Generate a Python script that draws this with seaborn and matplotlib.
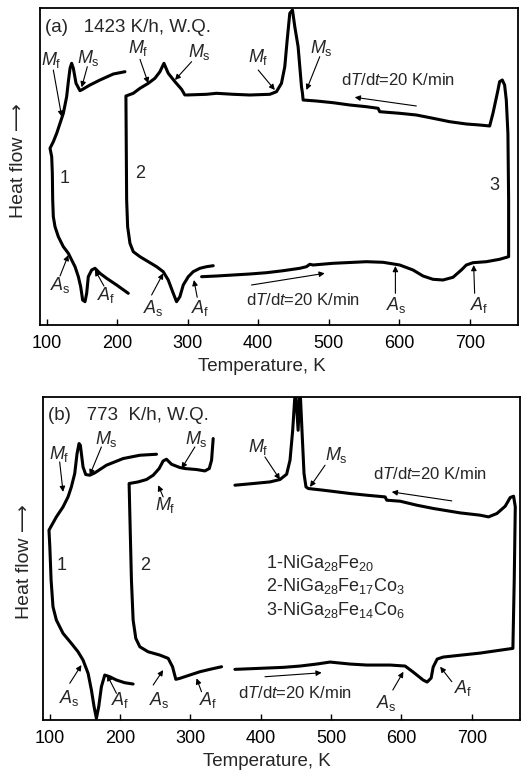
import numpy as np
import pandas as pd
import matplotlib
matplotlib.use("Agg")
import matplotlib.pyplot as plt
import seaborn as sns

# ---------------- data (T in K, heat flow in arbitrary units) ----------------
# Panel (a)
a1_T = [211.0, 194.5, 175.6, 161.4, 151.0, 147.2, 141.6, 137.8, 135.4, 133.1, 130.7, 128.3, 123.6, 118.9,
        114.2, 109.4, 104.7, 107.1, 108.0, 108.5, 109.4, 111.8, 116.5, 123.6, 130.7, 135.4, 140.2, 144.9,
        148.2, 151.0, 154.3, 156.7, 159.0, 163.8, 168.5, 175.6, 185.0, 199.2, 215.7]
a1_H = [253.3, 251.0, 245.0, 240.0, 235.7, 234.3, 241.7, 256.7, 261.7, 256.7, 243.3, 228.3, 211.7, 201.7,
        191.7, 183.3, 176.7, 168.3, 151.7, 125.0, 108.3, 98.3, 88.3, 78.3, 71.7, 65.0, 58.3, 48.3,
        38.3, 25.0, 23.3, 31.7, 48.3, 55.0, 56.7, 51.7, 46.7, 40.0, 31.7]

a2_T = [296.0, 291.3, 281.9, 272.4, 266.3, 260.6, 253.5, 244.1, 232.3, 222.8, 212.4, 212.4, 213.4, 214.8,
        218.1, 222.8, 232.3, 244.1, 255.9, 265.3, 272.4, 279.5, 284.2, 288.9, 293.7, 300.8, 307.8, 317.3,
        326.7, 336.2]
a2_H = [230.0, 235.7, 243.3, 251.7, 261.7, 253.3, 246.7, 241.7, 236.7, 231.7, 229.0, 225.0, 125.0, 98.3,
        81.7, 73.3, 68.3, 63.3, 58.3, 53.3, 45.0, 31.7, 23.3, 28.3, 40.0, 48.3, 53.3, 56.7,
        58.3, 59.3]

a3_T = [319.7, 340.9, 364.5, 388.1, 411.8, 435.4, 459.0, 468.4, 473.2, 477.9, 506.2, 553.5, 577.1, 600.7,
        619.6, 633.8, 647.9, 662.1, 676.3, 688.1, 695.2, 704.6, 723.5, 742.4, 755.2, 755.2, 754.2, 751.9,
        749.5, 746.2, 742.4, 740.1, 733.0, 728.3, 714.1, 695.2, 671.6, 648.0, 624.3, 600.7, 572.4, 570.0,
        553.5, 529.9, 506.2, 482.6, 463.7, 462.8, 461.4, 456.6, 451.9, 448.6, 444.8, 441.1, 437.7, 433.0,
        425.9, 416.5, 388.1, 364.5, 340.9, 326.7, 298.4]
a3_H = [48.3, 49.0, 50.0, 51.0, 52.3, 54.3, 56.7, 58.3, 60.7, 60.0, 61.7, 63.3, 62.7, 60.0,
        55.0, 49.0, 45.7, 45.0, 47.7, 55.0, 60.0, 62.3, 63.3, 65.7, 68.3, 125.0, 191.7, 225.0,
        240.0, 245.0, 243.3, 235.0, 211.7, 199.0, 200.0, 201.0, 203.3, 206.7, 210.0, 211.7, 213.3, 216.7,
        218.3, 220.0, 222.3, 224.0, 225.0, 231.7, 238.3, 278.3, 298.3, 315.0, 311.7, 285.0, 258.3, 241.7,
        233.3, 230.7, 230.0, 230.7, 231.7, 230.7, 230.0]

# Panel (b)
b1_T = [251.8, 228.1, 204.4, 180.6, 164.0, 156.9, 151.2, 147.4, 143.6, 141.7, 138.9, 135.6, 130.8, 126.1,
        119.0, 109.5, 99.0, 100.2, 102.0, 104.7, 109.5, 119.0, 130.8, 140.3, 147.4, 154.6, 159.3, 163.1,
        166.4, 169.7, 173.5, 178.3, 185.4, 194.9, 206.7, 218.6]
b1_H = [266.0, 265.0, 261.7, 255.0, 247.3, 245.0, 245.7, 253.3, 275.0, 276.7, 266.7, 246.7, 233.3, 223.3,
        213.3, 203.3, 190.0, 173.3, 140.0, 113.3, 100.0, 86.7, 76.7, 68.3, 60.0, 46.7, 30.0, 13.3,
        1.7, 13.3, 33.3, 45.0, 43.3, 40.0, 37.3, 36.0]

b2_T = [332.4, 330.1, 326.8, 320.6, 308.7, 292.1, 285.0, 273.1, 266.0, 261.3, 255.6, 247.1, 237.6, 225.7,
        212.9, 213.9, 216.2, 218.6, 222.4, 228.1, 239.9, 256.5, 268.4, 274.6, 279.3, 285.0, 299.2, 313.5,
        327.7, 344.3]
b2_H = [281.7, 260.0, 251.7, 249.3, 250.7, 251.7, 252.7, 256.0, 261.0, 259.3, 251.7, 245.0, 240.7, 238.3,
        236.7, 206.7, 140.0, 100.0, 81.7, 73.3, 68.3, 65.0, 61.7, 53.3, 40.7, 41.7, 45.0, 48.3,
        50.7, 53.3]

b3_T = [363.3, 389.4, 413.1, 427.3, 436.8, 441.6, 445.4, 449.3, 453.1, 455.8, 458.6, 461.5, 464.3, 467.6,
        489.0, 526.9, 550.7, 576.8, 579.1, 598.1, 621.8, 645.5, 683.5, 711.9, 723.8, 735.7, 747.5, 754.6,
        759.4, 761.8, 760.3, 758.4, 712.0, 659.3, 650.8, 645.1, 642.2, 636.5, 630.8, 616.6, 605.2, 583.9,
        550.7, 526.9, 498.5, 479.5, 455.8, 432.1, 408.3, 384.6, 363.3]
b3_H = [235.0, 236.7, 238.3, 240.7, 246.0, 260.0, 290.0, 333.0, 290.0, 333.0, 290.0, 246.7, 233.3, 231.7,
        230.0, 226.7, 225.0, 223.3, 220.0, 219.0, 215.0, 211.7, 207.3, 205.0, 203.3, 206.7, 214.0, 222.7,
        224.0, 213.3, 140.0, 71.7, 67.0, 63.0, 61.0, 53.0, 42.0, 38.0, 40.0, 48.0, 54.0, 55.0,
        55.0, 56.0, 58.0, 56.0, 54.0, 52.7, 52.0, 51.3, 50.7]

x_ticks = [100, 200, 300, 400, 500, 600, 700]
legend_lines = [r'1-NiGa$_{28}$Fe$_{20}$', r'2-NiGa$_{28}$Fe$_{17}$Co$_3$', r'3-NiGa$_{28}$Fe$_{14}$Co$_6$']
rate_label = r'd$T$/d$t$=20 K/min'
MF, MS, AS, AF = r'$M_{\rm f}$', r'$M_{\rm s}$', r'$A_{\rm s}$', r'$A_{\rm f}$'

# annotations: (label, text_xy, arrow_tail, arrow_head)
ann_a = [
    (MF, (107.1, 265.0), (109.4, 255.0), (121.3, 208.3)),
    (MS, (159.0, 266.7), (157.6, 258.3), (149.6, 237.7)),
    (MF, (229.9, 276.7), (232.3, 265.7), (244.1, 241.7)),
    (MS, (317.3, 273.3), (305.5, 263.3), (281.9, 245.0)),
    (MF, (400.0, 268.3), (400.0, 255.0), (423.6, 235.0)),
    (MS, (489.7, 276.7), (487.3, 268.3), (468.4, 235.0)),
    (rate_label, (598.3, 245.0), (624.3, 219.0), (536.9, 227.7)),
    (AS, (118.9, 40.0), (118.9, 49.0), (130.7, 70.0)),
    (AF, (185.0, 30.0), (181.2, 39.0), (168.5, 55.0)),
    (AS, (251.2, 16.7), (248.8, 30.0), (265.3, 51.7)),
    (AF, (317.3, 16.7), (313.5, 27.7), (308.8, 45.0)),
    (rate_label, (463.7, 25.0), (390.5, 40.0), (494.4, 51.7)),
    (AS, (596.0, 20.0), (594.6, 31.7), (594.6, 59.0)),
    (AF, (714.1, 20.0), (707.0, 31.7), (705.6, 60.0)),
]
ann_b = [
    (MF, (114.2, 266.7), (114.2, 258.3), (119.0, 228.3)),
    (MS, (180.6, 281.7), (173.5, 273.3), (156.9, 245.0)),
    (MS, (308.7, 281.7), (306.4, 273.3), (287.4, 251.7)),
    (MF, (263.7, 215.0), (261.3, 223.3), (254.2, 235.0)),
    (MF, (396.5, 273.3), (406.0, 263.3), (427.3, 240.7)),
    (MS, (508.0, 265.0), (491.4, 255.0), (470.0, 233.3)),
    (rate_label, (640.8, 246.7), (671.6, 219.3), (586.2, 228.3)),
    (AS, (128.5, 21.7), (128.5, 36.7), (145.1, 55.0)),
    (AF, (199.6, 20.0), (194.9, 26.7), (181.6, 45.0)),
    (AS, (256.5, 20.0), (247.1, 35.0), (261.3, 50.0)),
    (AF, (325.3, 20.0), (315.8, 28.3), (308.7, 41.7)),
    (rate_label, (448.7, 26.7), (406.0, 43.3), (486.6, 47.3)),
    (AS, (579.1, 16.7), (587.7, 30.0), (602.8, 48.3)),
    (AF, (688.2, 31.7), (671.6, 38.3), (655.0, 53.3)),
]

# ---------------- styling ----------------
sns.set_theme(style="ticks")
plt.rcParams['font.family'] = ['Liberation Sans', 'DejaVu Sans']
plt.rcParams['mathtext.fontset'] = 'custom'
plt.rcParams['mathtext.rm'] = 'Liberation Sans'
plt.rcParams['mathtext.it'] = 'Liberation Sans:italic'
plt.rcParams['mathtext.bf'] = 'Liberation Sans:bold'

FS = 13

fig = plt.figure(figsize=(5.22, 7.75), dpi=100)
ax_a = fig.add_axes([40/522, 1-325/775, 478/522, 317/775])
ax_b = fig.add_axes([43/522, 1-720/775, 477/522, 323/775])

def draw_curve(ax, T, H):
    df = pd.DataFrame({"T": T, "H": H})
    sns.lineplot(data=df, x="T", y="H", sort=False, estimator=None, ax=ax,
                 color="black", lw=2.2, solid_joinstyle="round", solid_capstyle="round")

for ax, curves, ymax, anns in [
    (ax_a, [(a1_T, a1_H), (a2_T, a2_H), (a3_T, a3_H)], 317.0, ann_a),
    (ax_b, [(b1_T, b1_H), (b2_T, b2_H), (b3_T, b3_H)], 323.3, ann_b),
]:
    for T, H in curves:
        draw_curve(ax, T, H)
    ax.set_xlim(90.5, 768.5)
    ax.set_ylim(0, ymax)
    ax.set_xticks(x_ticks)
    ax.set_xticklabels([str(t) for t in x_ticks])
    ax.set_yticks([])
    ax.tick_params(axis='x', direction='in', length=4, width=1, pad=7, labelsize=FS, colors='black')
    for s in ax.spines.values():
        s.set_visible(True)
        s.set_linewidth(1.3)
        s.set_color('black')
    ax.set_xlabel("Temperature, K", fontsize=13.5)
    ax.set_ylabel("Heat flow \u27f6", fontsize=14)
    for lab, txy, tail, head in anns:
        fs = 12 if lab == rate_label else FS
        ax.text(txy[0], txy[1], lab, ha='center', va='center', fontsize=fs)
        ax.annotate("", xy=head, xytext=tail,
                    arrowprops=dict(arrowstyle='-|>', lw=0.8, color='black',
                                    mutation_scale=8, shrinkA=0, shrinkB=0))

ax_a.xaxis.set_label_coords(0.465, -0.105)
ax_b.xaxis.set_label_coords(0.47, -0.103)
ax_a.yaxis.set_label_coords(-0.027, 0.52)
ax_b.yaxis.set_label_coords(-0.021, 0.49)

ax_a.text(97, 298, "(a)   1423 K/h, W.Q.", ha='left', va='center', fontsize=13.5)
ax_b.text(97, 305, "(b)   773  K/h, W.Q.", ha='left', va='center', fontsize=13.5)

ax_a.text(126, 146.7, "1", ha='center', va='center', fontsize=FS)
ax_a.text(232.3, 151.7, "2", ha='center', va='center', fontsize=FS)
ax_a.text(735.3, 140.0, "3", ha='center', va='center', fontsize=FS)
ax_b.text(116.6, 155.0, "1", ha='center', va='center', fontsize=FS)
ax_b.text(235.2, 155.0, "2", ha='center', va='center', fontsize=FS)

for line, yv in zip(legend_lines, [156.7, 134.0, 110.0]):
    ax_b.text(407, yv, line, ha='left', va='center', fontsize=FS)

fig.savefig("out.png", dpi=100)
